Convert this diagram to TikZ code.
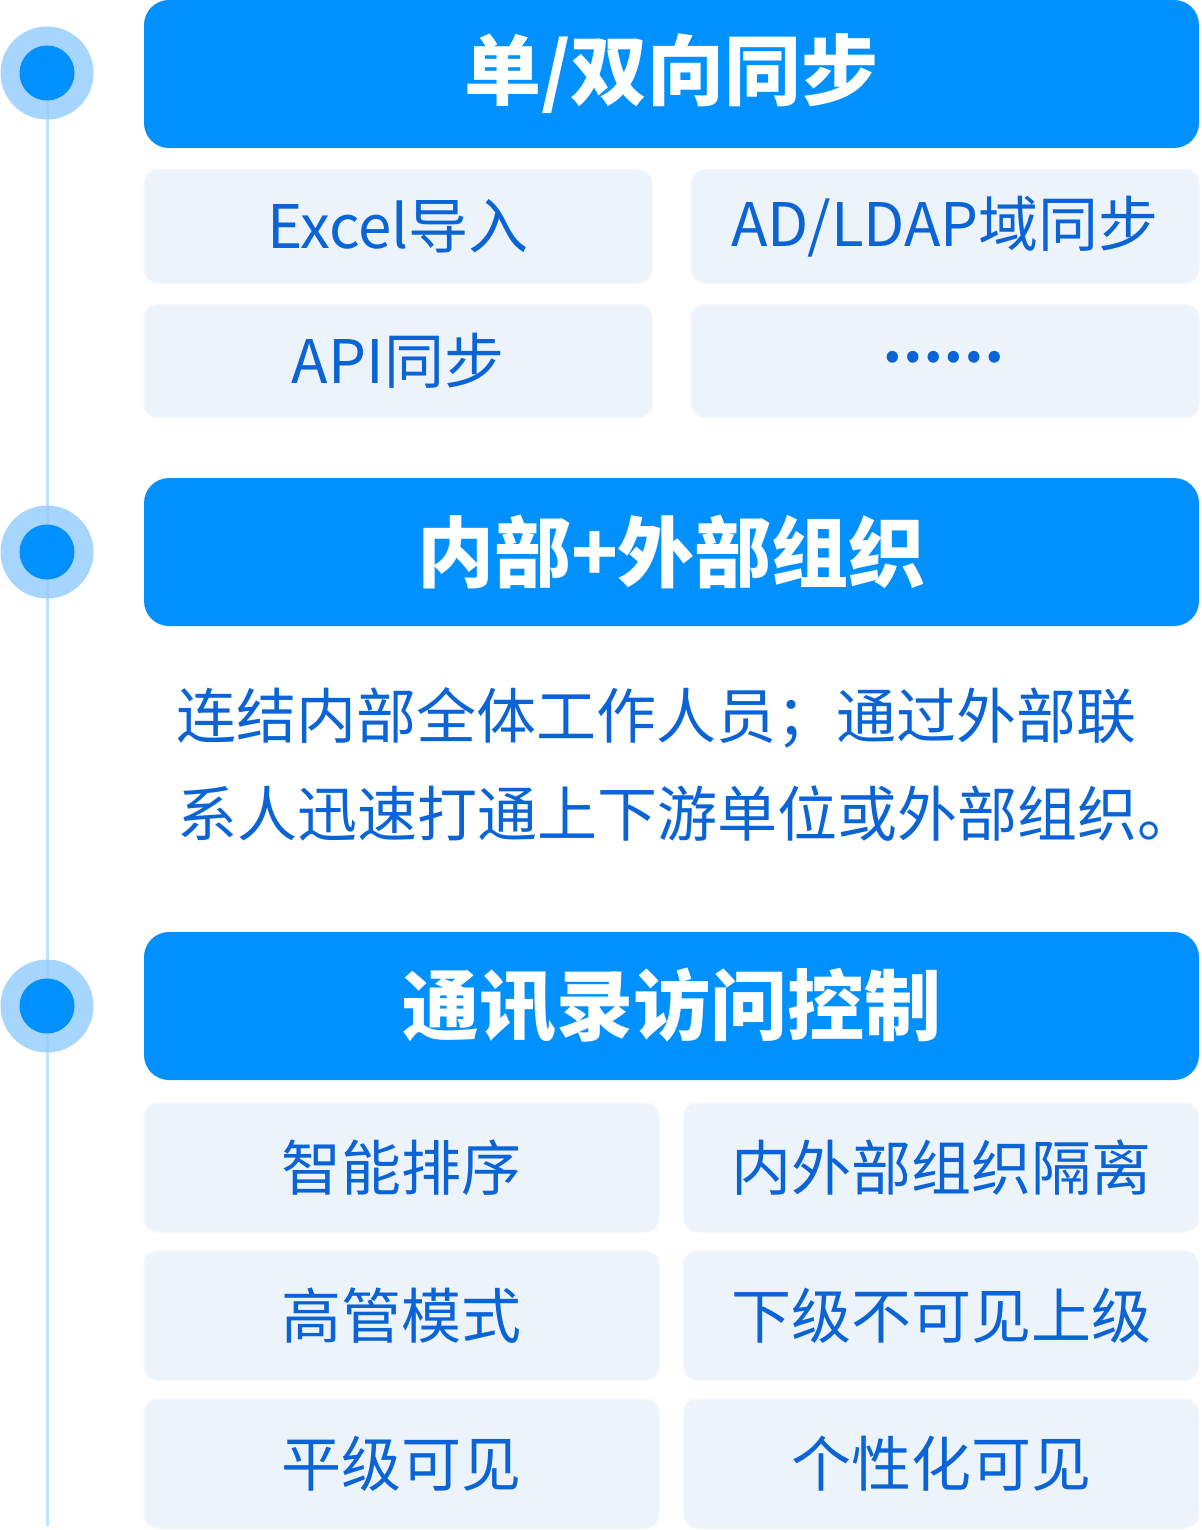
\documentclass[tikz,border=0pt]{standalone}
\usepackage{fontspec}
\setmainfont{Noto Sans CJK SC}
\definecolor{hdr}{RGB}{0,145,255}
\definecolor{ring}{RGB}{166,213,253}
\definecolor{vline}{RGB}{150,205,250}
\definecolor{cellfill}{RGB}{237,243,251}
\definecolor{cellline}{RGB}{243,247,253}
\definecolor{txt}{RGB}{10,100,214}
\tikzset{
  header/.style={fill=hdr, rounded corners=25pt, inner sep=0pt, outer sep=0pt,
    minimum width=1055pt, minimum height=148pt, text=white,
    font=\fontsize{77}{77}\selectfont\bfseries},
  cell/.style={fill=cellfill, draw=cellline, line width=1.5pt, rounded corners=14pt,
    inner sep=0pt, outer sep=0pt, text=txt, font=\fontsize{60}{60}\selectfont},
  smallcell/.style={cell, minimum width=508pt, minimum height=113pt},
  bigcell/.style={cell, minimum width=515pt, minimum height=129pt},
  ringdot/.style={circle, fill=ring, minimum size=93pt, inner sep=0pt, outer sep=0pt},
  coredot/.style={circle, fill=hdr, minimum size=55pt, inner sep=0pt, outer sep=0pt},
  para/.style={anchor=base west, inner sep=0pt, text=txt, font=\fontsize{60}{60}\selectfont},
  dotstext/.style={inner sep=0pt, text=txt, font=\fontsize{54}{54}\selectfont\bfseries}
}
\begin{document}
\begin{tikzpicture}[x=1pt,y=-1pt]
\useasboundingbox (0,0) rectangle (1201,1530);
% timeline rings
\node[ringdot] (r1) at (47,73) {};
\node[ringdot] (r2) at (47,552) {};
\node[ringdot] (r3) at (47,1006) {};
\coordinate (lend) at (47,1526);
\draw[vline, line width=3pt, opacity=0.6] (r1.center) -- (lend);
\node[coredot] (c1) at (47,73) {};
\node[coredot] (c2) at (47,552) {};
\node[coredot] (c3) at (47,1006) {};
% headers
\node[header] (h1) at (671.5,74) {单/双向同步};
\node[header] (h2) at (671.5,552) {内部+外部组织};
\node[header] (h3) at (671.5,1006) {通讯录访问控制};
% section 1 cells
\node[smallcell] (a1) at (398,226.5) {Excel导入};
\node[smallcell] (a2) at (945,226.5) {AD/LDAP域同步};
\node[smallcell] (a3) at (398,361) {API同步};
\node[smallcell] (a4) at (945,361) {};
\node[dotstext] (a4t) at (943,357) {……};
% section 2 paragraph
\node[para] (p1) at (176,738) {连结内部全体工作人员；通过外部联};
\node[para] (p2) at (177,836) {系人迅速打通上下游单位或外部组织。};
% section 3 cells
\node[bigcell] (b1) at (401.5,1167.5) {智能排序};
\node[bigcell] (b2) at (941,1167.5) {内外部组织隔离};
\node[bigcell] (b3) at (401.5,1315.5) {高管模式};
\node[bigcell] (b4) at (941,1315.5) {下级不可见上级};
\node[bigcell] (b5) at (401.5,1463.5) {平级可见};
\node[bigcell] (b6) at (941,1463.5) {个性化可见};
\end{tikzpicture}
\end{document}
